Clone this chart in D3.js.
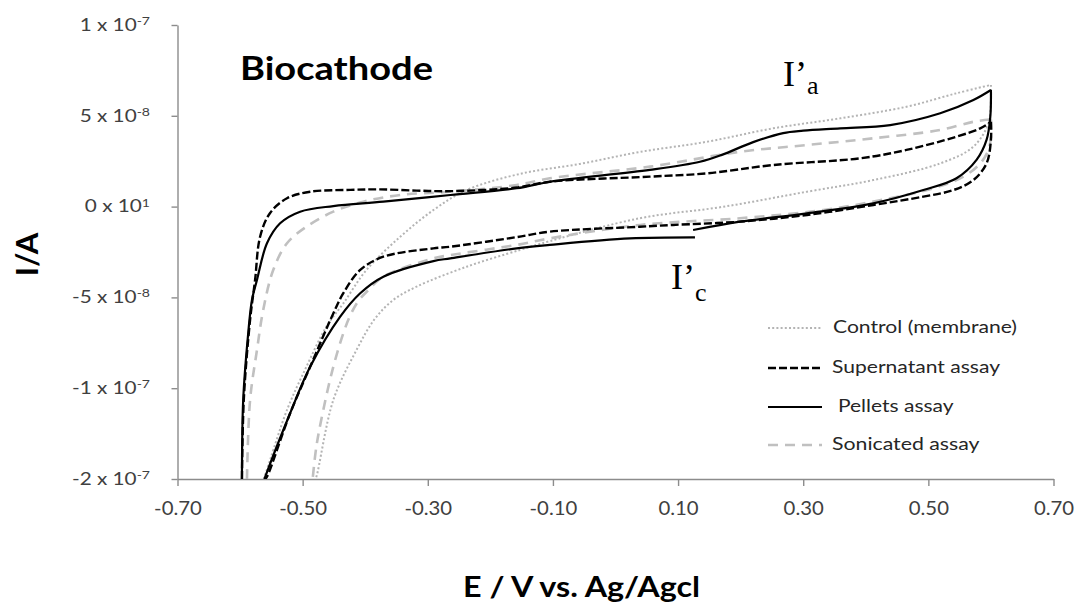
<!DOCTYPE html>
<html><head><meta charset="utf-8">
<script src="https://cdn.jsdelivr.net/npm/d3@7"></script>
<style>body{margin:0;background:#fff}svg{display:block}</style>
</head><body><svg id="c" width="1076" height="602"></svg>
<script>
// ---------------- DATA (E in V vs Ag/AgCl, I in A) ----------------
const xTicks = [-0.7, -0.5, -0.3, -0.1, 0.1, 0.3, 0.5, 0.7];
const yTickVals = [1e-7, 5e-8, 0, -5e-8, -1e-7, -1.5e-7];
const yTickBase = ["1 x 10", "5 x 10", "0 x 10", "-5 x 10", "-1 x 10", "-2 x 10"];
const yTickExp  = ["-7", "-8", "1", "-8", "-7", "-7"];
const seriesNames = ["Control (membrane)", "Supernatant assay", "Pellets assay", "Sonicated assay"];

const ctlUpper = [[-0.562,-15.0e-8],[-0.552,-13.95e-8],[-0.525,-11.20e-8],[-0.494,-8.82e-8],[-0.462,-6.61e-8],[-0.435,-5.33e-8],[-0.398,-3.49e-8],[-0.344,-1.66e-8],[-0.291,-0.19e-8],[-0.238,0.91e-8],[-0.153,1.80e-8],[-0.057,2.35e-8],[0.039,3.01e-8],[0.146,3.57e-8],[0.252,4.31e-8],[0.359,4.86e-8],[0.465,5.50e-8],[0.545,6.24e-8],[0.600,6.70e-8]];
const ctlLower = [[0.600,6.70e-8],[0.600,5.87e-8],[0.596,4.59e-8],[0.572,3.30e-8],[0.519,2.38e-8],[0.412,1.46e-8],[0.306,0.82e-8],[0.172,-0.01e-8],[0.039,-0.64e-8],[-0.105,-1.90e-8],[-0.153,-2.39e-8],[-0.238,-3.31e-8],[-0.318,-4.41e-8],[-0.355,-5.14e-8],[-0.385,-6.20e-8],[-0.414,-7.90e-8],[-0.451,-10.65e-8],[-0.478,-14.87e-8],[-0.480,-15.0e-8]];

const supUpper = [[-0.597,-15.0e-8],[-0.594,-10.6e-8],[-0.584,-6.24e-8],[-0.576,-4.04e-8],[-0.568,-1.66e-8],[-0.552,-0.35e-8],[-0.525,0.46e-8],[-0.488,0.82e-8],[-0.424,0.92e-8],[-0.376,0.95e-8],[-0.318,0.88e-8],[-0.264,0.85e-8],[-0.158,1.05e-8],[-0.105,1.37e-8],[0.055,1.65e-8],[0.146,1.83e-8],[0.252,2.29e-8],[0.391,2.66e-8],[0.465,3.12e-8],[0.545,3.85e-8],[0.583,4.31e-8],[0.600,4.67e-8]];
const supLower = [[0.600,4.67e-8],[0.600,3.67e-8],[0.593,2.38e-8],[0.572,1.46e-8],[0.540,0.91e-8],[0.492,0.55e-8],[0.412,0.09e-8],[0.306,-0.46e-8],[0.199,-0.83e-8],[0.092,-1.01e-8],[0.039,-1.11e-8],[-0.105,-1.38e-8],[-0.158,-1.68e-8],[-0.264,-2.21e-8],[-0.291,-2.30e-8],[-0.371,-2.76e-8],[-0.408,-3.49e-8],[-0.435,-4.77e-8],[-0.451,-5.88e-8],[-0.488,-8.82e-8],[-0.520,-11.38e-8],[-0.557,-14.87e-8],[-0.560,-15.0e-8]];

const pelUpper = [[-0.597,-15.0e-8],[-0.595,-10.65e-8],[-0.587,-6.98e-8],[-0.581,-5.14e-8],[-0.573,-4.04e-8],[-0.557,-2.02e-8],[-0.536,-0.92e-8],[-0.504,-0.28e-8],[-0.451,0.03e-8],[-0.371,0.27e-8],[-0.264,0.64e-8],[-0.158,1.01e-8],[-0.105,1.37e-8],[0.055,2.02e-8],[0.135,2.47e-8],[0.170,2.85e-8],[0.220,3.55e-8],[0.268,4.05e-8],[0.300,4.18e-8],[0.359,4.31e-8],[0.439,4.49e-8],[0.519,5.14e-8],[0.572,5.87e-8],[0.600,6.42e-8]];
const pelLowerA = [[0.600,6.42e-8],[0.599,4.95e-8],[0.593,3.67e-8],[0.577,2.57e-8],[0.545,1.56e-8],[0.492,0.91e-8],[0.412,0.18e-8],[0.306,-0.37e-8],[0.199,-0.83e-8],[0.124,-1.29e-8]];
const pelLowerB = [[0.127,-1.69e-8],[0.023,-1.75e-8],[-0.105,-2.11e-8],[-0.158,-2.30e-8],[-0.264,-2.85e-8],[-0.291,-3.00e-8],[-0.371,-3.86e-8],[-0.408,-4.77e-8],[-0.440,-6.06e-8],[-0.488,-8.82e-8],[-0.520,-11.38e-8],[-0.560,-14.9e-8],[-0.561,-15.0e-8]];

const sonUpper = [[-0.589,-15.0e-8],[-0.584,-10.65e-8],[-0.573,-7.90e-8],[-0.563,-5.69e-8],[-0.547,-3.49e-8],[-0.525,-2.02e-8],[-0.494,-1.11e-8],[-0.451,-0.28e-8],[-0.403,0.27e-8],[-0.344,0.64e-8],[-0.264,0.82e-8],[-0.158,1.19e-8],[-0.105,1.56e-8],[0.055,2.20e-8],[0.199,3.02e-8],[0.306,3.39e-8],[0.412,3.76e-8],[0.519,4.22e-8],[0.572,4.67e-8],[0.600,4.80e-8]];
const sonLower = [[0.600,4.80e-8],[0.600,3.85e-8],[0.596,3.12e-8],[0.583,2.38e-8],[0.556,1.65e-8],[0.508,1.01e-8],[0.439,0.46e-8],[0.332,-0.19e-8],[0.199,-0.64e-8],[0.039,-1.01e-8],[-0.105,-1.75e-8],[-0.158,-2.11e-8],[-0.264,-2.67e-8],[-0.291,-2.85e-8],[-0.371,-3.86e-8],[-0.395,-4.60e-8],[-0.411,-5.20e-8],[-0.424,-6.00e-8],[-0.435,-6.98e-8],[-0.451,-8.82e-8],[-0.467,-11.2e-8],[-0.478,-13.2e-8],[-0.484,-15.0e-8]];

// ---------------- LAYOUT ----------------
const svg = d3.select("#c");
const x = d3.scaleLinear().domain([-0.7, 0.7]).range([177.5, 1053.5]);
const y = d3.scaleLinear().domain([-1.5e-7, 1e-7]).range([479, 25]);
const axisColor = "#8c8c8c", labelColor = "#404040";
const sans = "Lato, 'Open Sans', sans-serif";

function stretch(sel, k) {
  sel.each(function () {
    const w = this.getComputedTextLength();
    d3.select(this).attr("textLength", w * k).attr("lengthAdjust", "spacingAndGlyphs");
  });
}

// clip
svg.append("defs").append("clipPath").attr("id", "plot")
  .append("rect").attr("x", 177.5).attr("y", 15).attr("width", 876).attr("height", 464);

// x axis
const gx = svg.append("g").attr("transform", "translate(0,479)")
  .call(d3.axisBottom(x).tickValues(xTicks).tickSize(7).tickSizeOuter(0).tickFormat(d => d.toFixed(2)));
gx.select(".domain").attr("stroke", axisColor).attr("stroke-width", 1.4);
gx.selectAll(".tick line").attr("stroke", axisColor).attr("stroke-width", 1.4);
gx.selectAll(".tick text").attr("y", 36).attr("dy", null)
  .attr("font-family", sans).attr("font-size", 18.5).attr("fill", labelColor);
stretch(gx.selectAll(".tick text"), 1.1);

// y axis
const gy = svg.append("g").attr("transform", "translate(177.5,0)")
  .call(d3.axisLeft(y).tickValues(yTickVals).tickSize(6).tickSizeOuter(0).tickFormat(""));
gy.select(".domain").attr("stroke", axisColor).attr("stroke-width", 1.4);
gy.selectAll(".tick line").attr("stroke", axisColor).attr("stroke-width", 1.4);
gy.selectAll(".tick text").remove();

const yl = svg.append("g").attr("font-family", sans).attr("fill", labelColor);
yTickVals.forEach((v, i) => {
  const t = yl.append("text").attr("text-anchor", "end")
    .attr("transform", `translate(150,${y(v) + 5.7}) scale(1.22,1)`)
    .attr("font-size", 17);
  t.append("tspan").text(yTickBase[i]);
  t.append("tspan").attr("font-size", 11.5).attr("dy", -5.7).text(yTickExp[i]);
});

// curves
const line = d3.line().x(d => x(d[0])).y(d => y(d[1])).curve(d3.curveCatmullRom.alpha(0.5));
const styles = [
  { color: "#b4b4b4", width: 2.0, dash: "2 2.2" },
  { color: "#000000", width: 2.4, dash: "8 3" },
  { color: "#000000", width: 2.2, dash: null },
  { color: "#c0c0c0", width: 2.6, dash: "10 7" }
];
const parts = [[ctlUpper, ctlLower], [supUpper, supLower], [pelUpper, pelLowerA, pelLowerB], [sonUpper, sonLower]];
const order = [0, 3, 2, 1];
const gc = svg.append("g").attr("clip-path", "url(#plot)");
order.forEach(i => {
  parts[i].forEach(p => {
    gc.append("path").attr("d", line(p)).attr("fill", "none")
      .attr("stroke", styles[i].color).attr("stroke-width", styles[i].width)
      .attr("stroke-dasharray", styles[i].dash).attr("stroke-linejoin", "round");
  });
});

// legend
const legRows = [328, 368, 407, 445];
const legTextX = [833, 832, 838, 832];
const legWidths = [184, 168, 115.6, 147.6];
const lg = svg.append("g");
seriesNames.forEach((n, i) => {
  lg.append("line").attr("x1", 768).attr("x2", 822).attr("y1", legRows[i]).attr("y2", legRows[i])
    .attr("stroke", styles[i].color).attr("stroke-width", styles[i].width).attr("stroke-dasharray", styles[i].dash);
  lg.append("text").attr("x", legTextX[i]).attr("y", legRows[i] + 5)
    .attr("font-family", sans).attr("font-size", 17).attr("fill", "#262626")
    .attr("textLength", legWidths[i]).attr("lengthAdjust", "spacingAndGlyphs").text(n);
});

// titles
svg.append("text").attr("x", 240).attr("y", 79.5).attr("font-family", sans).attr("font-weight", 700)
  .attr("font-size", 32).attr("fill", "#000").attr("textLength", 193).attr("lengthAdjust", "spacingAndGlyphs")
  .text("Biocathode");
svg.append("text").attr("transform", "translate(38,254.5) rotate(-90)").attr("text-anchor", "middle")
  .attr("font-family", sans).attr("font-weight", 700).attr("font-size", 31).attr("fill", "#000").text("I/A");
svg.append("text").attr("x", 463).attr("y", 597).attr("font-family", sans).attr("font-weight", 700)
  .attr("font-size", 28).attr("fill", "#000").attr("textLength", 237).attr("lengthAdjust", "spacingAndGlyphs")
  .text("E / V vs. Ag/Agcl");

// peak annotations
const serif = "'Liberation Serif', 'Times New Roman', serif";
const a1 = svg.append("text").attr("x", 783).attr("y", 86).attr("font-family", serif).attr("font-size", 36).attr("fill", "#000");
a1.append("tspan").text("I’");
a1.append("tspan").attr("font-size", 26).attr("dy", 8).text("a");
const a2 = svg.append("text").attr("x", 671).attr("y", 289).attr("font-family", serif).attr("font-size", 36).attr("fill", "#000");
a2.append("tspan").text("I’");
a2.append("tspan").attr("font-size", 26).attr("dy", 12).text("c");
</script></body></html>
